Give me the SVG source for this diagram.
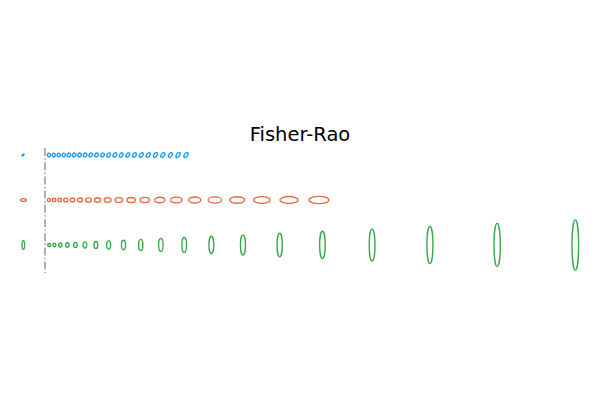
<svg xmlns="http://www.w3.org/2000/svg" width="600" height="400" viewBox="0 0 600 400">
<style>
  .b{fill:none;stroke:#1a9bea;stroke-width:1.35}
  .o{fill:none;stroke:#e8693f;stroke-width:1.35}
  .g{fill:none;stroke:#36a849;stroke-width:1.35}
  .sep{fill:none;stroke:#7f7f7f;stroke-width:1.2;stroke-dasharray:8 2.4 1.4 2.4}
  .title{font-family:"DejaVu Sans",sans-serif;font-size:19.5px;fill:#000}
</style>
<rect width="600" height="400" fill="#fff"/>
<text class="title" x="300" y="141" text-anchor="middle">Fisher-Rao</text>
<line id="separator" class="sep" x1="45" y1="148" x2="45" y2="273"/>
<g id="row-blue">
  <ellipse class="b" cx="23" cy="155" rx="1.4" ry="0.55" transform="rotate(-35 23 155)"/>
  <g transform="translate(0 155)">
    <ellipse class="b" cx="49" cy="0" rx="1.7" ry="1.7" transform="rotate(-55 49 0)"/>
    <ellipse class="b" cx="53.8" cy="0" rx="1.75" ry="1.69" transform="rotate(-55 53.8 0)"/>
    <ellipse class="b" cx="58.72" cy="0" rx="1.80" ry="1.68" transform="rotate(-55 58.72 0)"/>
    <ellipse class="b" cx="63.74" cy="0" rx="1.85" ry="1.67" transform="rotate(-55 63.74 0)"/>
    <ellipse class="b" cx="68.9" cy="0" rx="1.90" ry="1.66" transform="rotate(-55 68.9 0)"/>
    <ellipse class="b" cx="74.18" cy="0" rx="1.95" ry="1.65" transform="rotate(-55 74.18 0)"/>
    <ellipse class="b" cx="79.58" cy="0" rx="2.00" ry="1.64" transform="rotate(-55 79.58 0)"/>
    <ellipse class="b" cx="85.12" cy="0" rx="2.05" ry="1.63" transform="rotate(-55 85.12 0)"/>
    <ellipse class="b" cx="90.78" cy="0" rx="2.10" ry="1.62" transform="rotate(-55 90.78 0)"/>
    <ellipse class="b" cx="96.58" cy="0" rx="2.15" ry="1.61" transform="rotate(-55 96.58 0)"/>
    <ellipse class="b" cx="102.54" cy="0" rx="2.20" ry="1.60" transform="rotate(-55 102.54 0)"/>
    <ellipse class="b" cx="108.62" cy="0" rx="2.25" ry="1.59" transform="rotate(-55 108.62 0)"/>
    <ellipse class="b" cx="114.84" cy="0" rx="2.31" ry="1.58" transform="rotate(-55 114.84 0)"/>
    <ellipse class="b" cx="121.22" cy="0" rx="2.37" ry="1.57" transform="rotate(-55 121.22 0)"/>
    <ellipse class="b" cx="127.76" cy="0" rx="2.43" ry="1.56" transform="rotate(-55 127.76 0)"/>
    <ellipse class="b" cx="134.46" cy="0" rx="2.49" ry="1.55" transform="rotate(-55 134.46 0)"/>
    <ellipse class="b" cx="141.3" cy="0" rx="2.55" ry="1.54" transform="rotate(-55 141.3 0)"/>
    <ellipse class="b" cx="148.32" cy="0" rx="2.61" ry="1.53" transform="rotate(-55 148.32 0)"/>
    <ellipse class="b" cx="155.5" cy="0" rx="2.67" ry="1.52" transform="rotate(-55 155.5 0)"/>
    <ellipse class="b" cx="162.86" cy="0" rx="2.73" ry="1.51" transform="rotate(-55 162.86 0)"/>
    <ellipse class="b" cx="170.4" cy="0" rx="2.80" ry="1.50" transform="rotate(-55 170.4 0)"/>
    <ellipse class="b" cx="178.1" cy="0" rx="2.87" ry="1.49" transform="rotate(-55 178.1 0)"/>
    <ellipse class="b" cx="186" cy="0" rx="2.94" ry="1.48" transform="rotate(-55 186 0)"/>
  </g>
</g>
<g id="row-orange">
  <ellipse class="o" cx="23.5" cy="200" rx="2.9" ry="1.4"/>
  <g transform="translate(0 200)">
    <ellipse class="o" cx="49" cy="0" rx="1.6" ry="1.65"/>
    <ellipse class="o" cx="54.06" cy="0" rx="1.72" ry="1.72"/>
    <ellipse class="o" cx="59.64" cy="0" rx="1.88" ry="1.80"/>
    <ellipse class="o" cx="65.8" cy="0" rx="2.08" ry="1.88"/>
    <ellipse class="o" cx="72.61" cy="0" rx="2.30" ry="1.96"/>
    <ellipse class="o" cx="80.12" cy="0" rx="2.54" ry="2.04"/>
    <ellipse class="o" cx="88.42" cy="0" rx="2.80" ry="2.13"/>
    <ellipse class="o" cx="97.57" cy="0" rx="3.09" ry="2.22"/>
    <ellipse class="o" cx="107.68" cy="0" rx="3.41" ry="2.31"/>
    <ellipse class="o" cx="118.84" cy="0" rx="3.76" ry="2.41"/>
    <ellipse class="o" cx="131.16" cy="0" rx="4.15" ry="2.51"/>
    <ellipse class="o" cx="144.76" cy="0" rx="4.58" ry="2.62"/>
    <ellipse class="o" cx="159.78" cy="0" rx="5.06" ry="2.73"/>
    <ellipse class="o" cx="176.35" cy="0" rx="5.58" ry="2.85"/>
    <ellipse class="o" cx="194.66" cy="0" rx="6.15" ry="2.97"/>
    <ellipse class="o" cx="214.86" cy="0" rx="6.79" ry="3.10"/>
    <ellipse class="o" cx="237.17" cy="0" rx="7.49" ry="3.23"/>
    <ellipse class="o" cx="261.8" cy="0" rx="8.27" ry="3.37"/>
    <ellipse class="o" cx="288.98" cy="0" rx="9.12" ry="3.52"/>
    <ellipse class="o" cx="319" cy="0" rx="10.07" ry="3.68"/>
  </g>
</g>
<g id="row-green">
  <ellipse class="g" cx="23.3" cy="245" rx="1.3" ry="4.3"/>
  <g transform="translate(0 245)">
    <ellipse class="g" cx="49.2" cy="0" rx="1.5" ry="1.5"/>
    <ellipse class="g" cx="54.36" cy="0" rx="1.55" ry="1.72"/>
    <ellipse class="g" cx="60.36" cy="0" rx="1.61" ry="1.98"/>
    <ellipse class="g" cx="67.34" cy="0" rx="1.67" ry="2.28"/>
    <ellipse class="g" cx="75.46" cy="0" rx="1.74" ry="2.64"/>
    <ellipse class="g" cx="84.9" cy="0" rx="1.81" ry="3.06"/>
    <ellipse class="g" cx="95.87" cy="0" rx="1.89" ry="3.55"/>
    <ellipse class="g" cx="108.64" cy="0" rx="1.97" ry="4.12"/>
    <ellipse class="g" cx="123.49" cy="0" rx="2.05" ry="4.78"/>
    <ellipse class="g" cx="140.76" cy="0" rx="2.14" ry="5.56"/>
    <ellipse class="g" cx="160.84" cy="0" rx="2.23" ry="6.46"/>
    <ellipse class="g" cx="184.2" cy="0" rx="2.33" ry="7.52"/>
    <ellipse class="g" cx="211.36" cy="0" rx="2.43" ry="8.73"/>
    <ellipse class="g" cx="242.96" cy="0" rx="2.54" ry="10.15"/>
    <ellipse class="g" cx="279.7" cy="0" rx="2.65" ry="11.8"/>
    <ellipse class="g" cx="322.43" cy="0" rx="2.77" ry="13.72"/>
    <ellipse class="g" cx="372.12" cy="0" rx="2.89" ry="15.95"/>
    <ellipse class="g" cx="429.92" cy="0" rx="3.02" ry="18.55"/>
    <ellipse class="g" cx="497.14" cy="0" rx="3.16" ry="21.56"/>
    <ellipse class="g" cx="575.32" cy="0" rx="3.3" ry="25.1"/>
  </g>
</g>
</svg>
